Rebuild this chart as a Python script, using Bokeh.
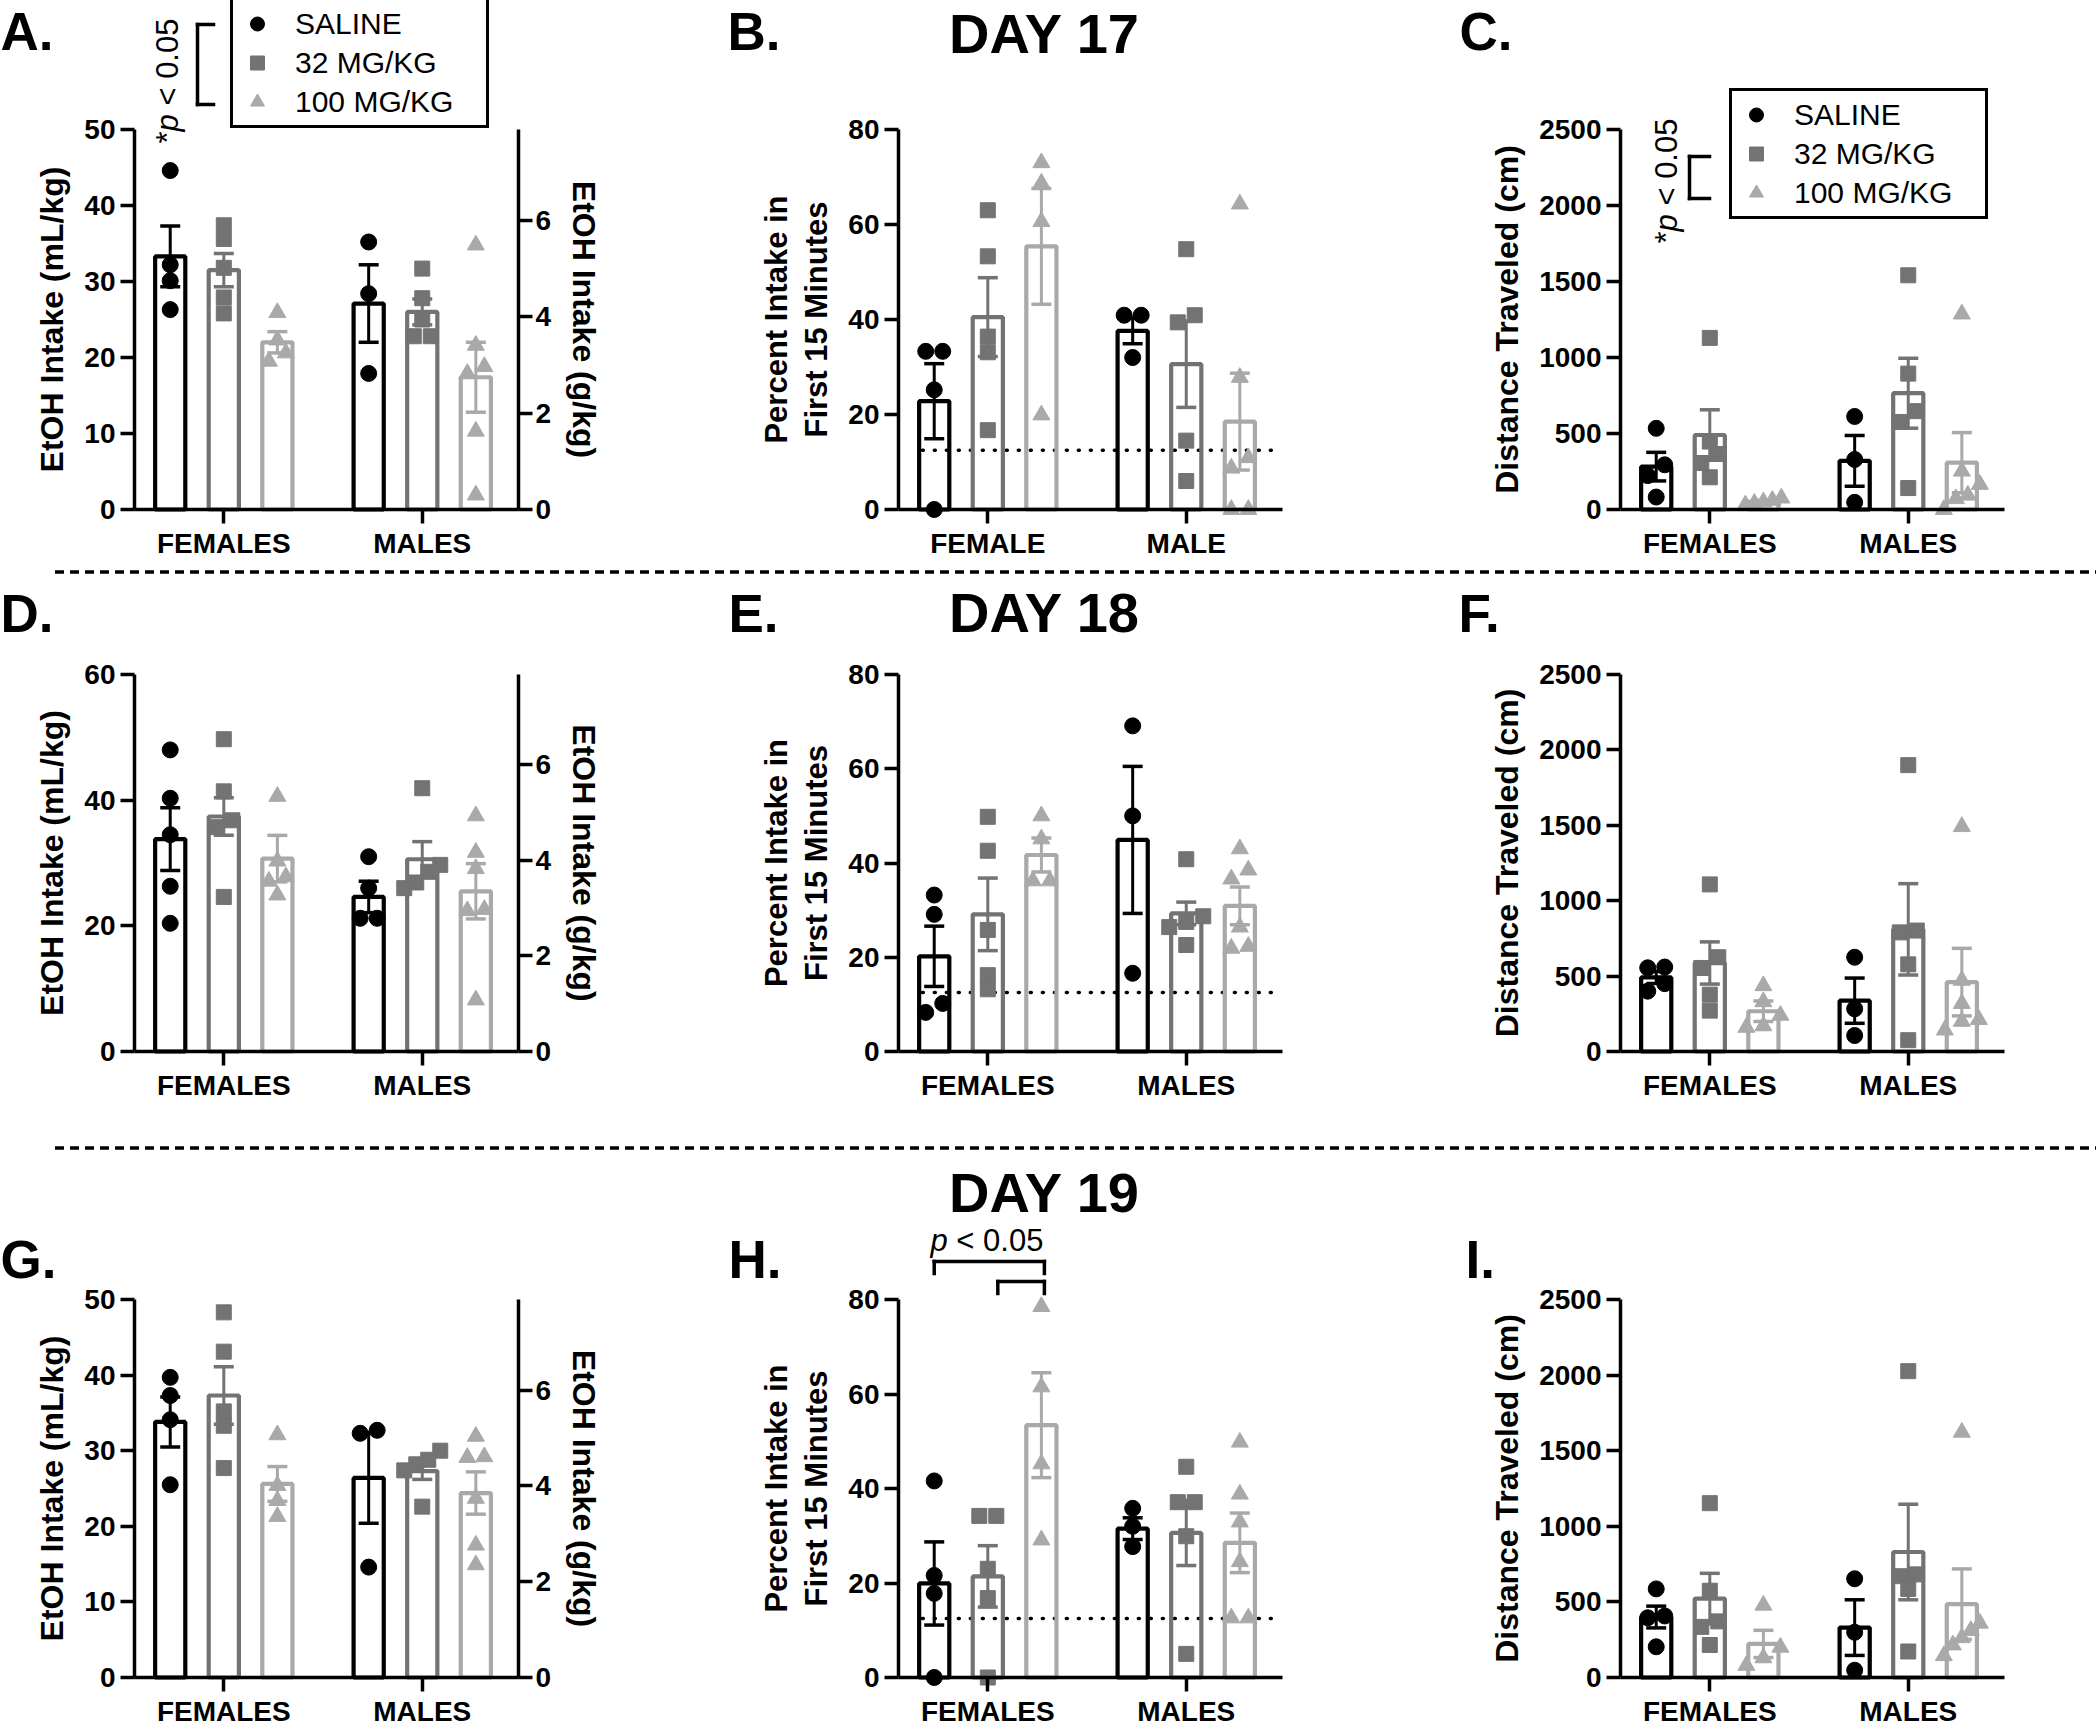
import math
from bokeh.plotting import figure
from bokeh.models import (Range1d, LinearAxis, FixedTicker, Whisker, TeeHead,
                          ColumnDataSource, Label, Legend, LegendItem, Arrow, Div)
from bokeh.layouts import column, row
from bokeh.embed import file_html
from bokeh.resources import INLINE

# ---------------------------------------------------------------- data
DOSES = ["SALINE", "32 MG/KG", "100 MG/KG"]
SEXES = ["FEMALES", "MALES"]
SEXES_B = ["FEMALE", "MALE"]
CHANCE_PCT = 12.5          # dotted reference line (15 of 120 min)
G_PER_KG_MAX = 7.89        # right axis end (g/kg)

# rows = dose (saline, 32, 100); cols = sex (female, male)
A_MEAN = [[33.3, 27.1], [31.5, 26.0], [22.0, 17.4]]
A_SEM = [[4.0, 5.1], [2.2, 1.7], [1.4, 4.6]]
A_PTS = [[[44.6, 32.2, 30.1, 26.3], [35.2, 28.4, 17.9]],
         [[37.4, 35.6, 31.8, 27.9, 25.8], [31.7, 27.8, 25.0, 22.8, 22.8]],
         [[25.9, 22.3, 20.6, 19.5], [34.8, 21.6, 18.8, 17.9, 10.3, 1.9]]]

B_MEAN = [[22.8, 37.6], [40.5, 30.6], [55.4, 18.5]]
B_SEM = [[7.9, 2.7], [8.3, 9.1], [12.2, 10.2]]
B_PTS = [[[33.3, 33.3, 25.2, 0.0], [40.9, 40.9, 32.0]],
         [[63.0, 53.3, 36.4, 33.1, 16.7], [54.8, 40.9, 39.4, 14.5, 6.0]],
         [[73.0, 68.7, 60.6, 19.9], [64.3, 27.8, 10.9, 8.7, 0.0, 0.0]]]

C_MEAN = [[282, 320], [490, 765], [50, 308]]
C_SEM = [[94, 167], [166, 230], [9, 198]]
C_PTS = [[[534, 294, 223, 82], [612, 329, 47]],
         [[1129, 447, 365, 306, 212], [1541, 894, 647, 576, 141]],
         [[75, 60, 50, 40, 30], [1286, 252, 165, 94, 71, 0]]]

D_MEAN = [[33.8, 24.6], [37.4, 30.6], [30.7, 25.5]]
D_SEM = [[5.0, 2.5], [3.0, 2.8], [3.7, 4.4]]
D_PTS = [[[48.0, 40.3, 34.5, 26.3, 20.4], [31.0, 26.0, 21.2, 21.2]],
         [[49.7, 41.4, 36.8, 35.7, 24.6], [41.9, 29.7, 28.6, 26.9, 26.0]],
         [[40.6, 30.3, 27.8, 27.1, 24.9], [37.5, 31.7, 29.1, 22.6, 22.4, 8.2]]]

E_MEAN = [[20.2, 44.9], [29.1, 29.3], [41.7, 30.9]]
E_SEM = [[6.4, 15.6], [7.7, 2.4], [3.6, 4.0]]
E_PTS = [[[33.2, 29.1, 10.2, 8.3], [69.1, 50.0, 16.6]],
         [[49.8, 42.6, 25.8, 16.2, 13.2], [40.8, 28.7, 27.5, 26.4, 22.6]],
         [[50.0, 45.1, 36.2, 36.2], [43.0, 38.5, 36.6, 26.4, 22.3, 21.9]]]

F_MEAN = [[491, 337], [587, 810], [267, 460]]
F_SEM = [[40, 150], [140, 303], [68, 224]]
F_PTS = [[[560, 555, 450, 400], [625, 283, 106]],
         [[1108, 625, 554, 377, 271], [1899, 802, 790, 578, 75]],
         [[436, 330, 240, 170, 160], [1491, 472, 318, 212, 200, 142]]]

G_MEAN = [[33.8, 26.4], [37.3, 27.3], [25.6, 24.4]]
G_SEM = [[3.3, 6.0], [3.8, 1.1], [2.3, 2.8]]
G_PTS = [[[39.7, 37.3, 34.1, 25.5], [32.7, 32.3, 14.6]],
         [[48.3, 43.1, 35.2, 33.3, 27.7], [30.0, 28.8, 28.2, 27.4, 22.6]],
         [[32.1, 25.4, 23.4, 21.3], [31.9, 29.2, 29.1, 23.7, 17.5, 14.9]]]

H_MEAN = [[19.9, 31.5], [21.4, 30.6], [53.4, 28.5]]
H_SEM = [[8.8, 2.3], [6.5, 6.9], [11.1, 6.3]]
H_PTS = [[[41.6, 21.6, 17.8, 0.0], [35.8, 32.0, 27.7]],
         [[34.2, 34.2, 23.0, 16.8, 0.0], [44.6, 37.1, 37.1, 29.9, 5.0]],
         [[78.5, 61.5, 45.2, 29.1], [49.8, 38.8, 32.9, 24.5, 12.6, 12.6]]]

I_MEAN = [[400, 330], [522, 830], [222, 485]]
I_SEM = [[72, 184], [167, 316], [90, 233]]
I_PTS = [[[586, 407, 395, 203], [653, 299, 48]],
         [[1153, 574, 371, 335, 215], [2026, 682, 670, 586, 172]],
         [[478, 200, 130, 80], [1622, 359, 311, 263, 215, 144]]]

ETOH_TICKS = [0, 10, 20, 30, 40, 50]
ETOH_TICKS_D = [0, 20, 40, 60]
PCT_TICKS = [0, 20, 40, 60, 80]
DIST_TICKS = [0, 500, 1000, 1500, 2000, 2500]
G_TICKS = [0, 2, 4, 6]

LETTERS = [["A.", "B.", "C."], ["D.", "E.", "F."], ["G.", "H.", "I."]]
TITLES = ["DAY 17", "DAY 18", "DAY 19"]
P_TEXT = "< 0.05"

# ---------------------------------------------------------------- layout (px)
COL_LEFT = [0, 700, 1400]
COL_W = [700, 700, 696]
FRAME_LEFT = [134, 898, 1620]
FRAME_W = 384
ROW_TOP = [0, 578, 1154]
ROW_H = [566, 564, 573]
FRAME_TOP = [129, 674, 1299]
FRAME_H = [380, 377, 378]
SEP_H = 12
X0, X1 = -0.45, 1.485
DODGE = 0.27
BAR_W = 0.152
BAR_LINE = 4.2
COLORS = ["#000000", "#737373", "#a9a9a9"]
MARKERS = ["circle", "square", "triangle"]
MSIZE = [16, 15, 17]
FONT = "Liberation Sans"
TOTAL_W = sum(COL_W)
BASE_FIX = 0.33   # label anchor correction (em) for alphabetic baseline

LETTER_X = [[0, 727, 1459], [0, 728, 1458], [0, 728, 1465]]
LETTER_BASE = [48, 630, 1276]
LETTER_SIZE = 53
TITLE_X = 1044
TITLE_BASE = [51, 630, 1210]
TITLE_SIZE = 56


def swarm_offsets(vals, px_per_unit, near=11.0, step=17.0, max_span=36.0):
    idx = sorted(range(len(vals)), key=lambda i: vals[i])
    clusters, cur = [], [idx[0]]
    for i in idx[1:]:
        if (vals[i] - vals[cur[-1]]) * px_per_unit < near:
            cur.append(i)
        else:
            clusters.append(cur)
            cur = [i]
    clusters.append(cur)
    off = [0.0] * len(vals)
    for cl in clusters:
        n = len(cl)
        if n == 1:
            continue
        s = min(step, max_span / (n - 1))
        for k, i in enumerate(cl):
            off[i] = (k - (n - 1) / 2.0) * s
    return off


def style_axis(ax, label_size="32px"):
    ax.axis_line_width = 3.5
    ax.axis_line_color = "black"
    ax.major_tick_line_width = 3.5
    ax.major_tick_line_color = "black"
    ax.major_tick_out = 14
    ax.major_tick_in = 0
    ax.minor_tick_line_color = None
    ax.major_label_text_font = FONT
    ax.major_label_text_font_style = "bold"
    ax.major_label_text_font_size = "28px"
    ax.major_label_text_color = "black"
    ax.axis_label_text_font = FONT
    ax.axis_label_text_font_style = "bold"
    ax.axis_label_text_font_size = label_size
    ax.axis_label_text_color = "black"
    ax.major_label_standoff = 5
    ax.axis_label_standoff = 11


def make_panel(r, c, ymax, yticks, ylabel, xlabels, means, sems, pts,
               right_axis=False, chance=False, label_size="32px"):
    xppu = FRAME_W / (X1 - X0)
    ppu = FRAME_H[r] / ymax
    xs0 = X0 - (FRAME_LEFT[c] - COL_LEFT[c]) / xppu
    xs1 = X1 + (COL_LEFT[c] + COL_W[c] - FRAME_LEFT[c] - FRAME_W) / xppu
    ys0 = -(ROW_TOP[r] + ROW_H[r] - FRAME_TOP[r] - FRAME_H[r]) / ppu
    ys1 = ymax + (FRAME_TOP[r] - ROW_TOP[r]) / ppu

    p = figure(width=COL_W[c], height=ROW_H[r],
               x_range=Range1d(xs0, xs1), y_range=Range1d(ys0, ys1),
               min_border=0, min_border_left=0, min_border_right=0,
               min_border_top=0, min_border_bottom=0,
               x_axis_location=None, y_axis_location=None,
               output_backend="svg", toolbar_location=None,
               outline_line_color=None, background_fill_color="white",
               border_fill_color="white")
    p.title.visible = False
    p.xgrid.visible = False
    p.ygrid.visible = False

    xa = LinearAxis(fixed_location=0, bounds=(X0, X1),
                    ticker=FixedTicker(ticks=[0, 1]))
    style_axis(xa)
    xa.major_label_standoff = 4
    xa.major_label_overrides = {0: xlabels[0], 1: xlabels[1]}
    p.add_layout(xa, "below")

    ya = LinearAxis(fixed_location=X0, bounds=(0, ymax),
                    ticker=FixedTicker(ticks=yticks), axis_label=ylabel)
    style_axis(ya, label_size)
    ya.axis_label_text_line_height = 1.15
    p.add_layout(ya, "left")

    if right_axis:
        gscale = G_PER_KG_MAX / ymax
        p.extra_y_ranges = {"g": Range1d(ys0 * gscale, ys1 * gscale)}
        ra = LinearAxis(y_range_name="g", fixed_location=X1,
                        bounds=(0, G_PER_KG_MAX),
                        ticker=FixedTicker(ticks=G_TICKS),
                        axis_label="EtOH Intake (g/kg)")
        style_axis(ra, label_size)
        ra.major_label_standoff = 3
        ra.axis_label_standoff = 12
        p.add_layout(ra, "right")

    if chance:
        p.line(x=[X0 + 0.12, X1 - 0.02], y=[CHANCE_PCT, CHANCE_PCT],
               line_color="black", line_width=3.5, line_dash="1 11",
               line_cap="round")

    renderers = []
    for d in range(3):
        xs = [g + (d - 1) * DODGE for g in (0, 1)]
        p.vbar(x=xs, top=means[d], bottom=0, width=BAR_W, fill_color=None,
               line_color=COLORS[d], line_width=BAR_LINE)
    for d in range(3):
        px, py = [], []
        for g in (0, 1):
            vals = pts[d][g]
            offs = swarm_offsets(vals, ppu)
            for v, o in zip(vals, offs):
                px.append(g + (d - 1) * DODGE + o / xppu)
                py.append(v)
        rr = p.scatter(x=px, y=py, marker=MARKERS[d], size=MSIZE[d],
                       fill_color=COLORS[d], line_color=COLORS[d])
        renderers.append(rr)
    for d in range(3):
        xs = [g + (d - 1) * DODGE for g in (0, 1)]
        up = [means[d][g] + sems[d][g] for g in (0, 1)]
        lo = [means[d][g] - sems[d][g] for g in (0, 1)]
        src = ColumnDataSource(dict(base=xs, upper=up, lower=lo))
        w = Whisker(source=src, base="base", upper="upper", lower="lower",
                    line_color=COLORS[d], line_width=3,
                    upper_head=TeeHead(size=20, line_color=COLORS[d], line_width=3.5),
                    lower_head=TeeHead(size=20, line_color=COLORS[d], line_width=3.5))
        p.add_layout(w)

    def conv(pxp, pyp):
        x = X0 + (pxp - FRAME_LEFT[c]) / FRAME_W * (X1 - X0)
        y = ymax * (1.0 - (pyp - FRAME_TOP[r]) / FRAME_H[r])
        return x, y

    lx, ly = conv(LETTER_X[r][c], LETTER_BASE[r] - BASE_FIX * LETTER_SIZE)
    p.add_layout(Label(x=lx, y=ly, text=LETTERS[r][c], text_font=FONT,
                       text_font_style="bold", text_font_size=f"{LETTER_SIZE}px",
                       text_baseline="alphabetic", text_align="left",
                       text_color="black"))
    if c == 1:
        tx, ty = conv(TITLE_X, TITLE_BASE[r] - BASE_FIX * TITLE_SIZE)
        p.add_layout(Label(x=tx, y=ty, text=TITLES[r], text_font=FONT,
                           text_font_style="bold", text_font_size=f"{TITLE_SIZE}px",
                           text_baseline="alphabetic", text_align="center",
                           text_color="black"))
    return p, renderers, conv


def add_legend(p, renderers, loc):
    items = [LegendItem(label=DOSES[d], renderers=[renderers[d]]) for d in range(3)]
    leg = Legend(items=items, location=loc, orientation="vertical",
                 border_line_color="black", border_line_width=3.5,
                 border_line_alpha=1.0,
                 background_fill_color="white", background_fill_alpha=1.0,
                 padding=6, spacing=4, margin=0, glyph_width=36, glyph_height=35,
                 label_height=35, label_width=185, label_standoff=20,
                 label_text_font=FONT, label_text_font_size="30px",
                 label_text_color="black")
    p.add_layout(leg)


def seg(p, conv, x1, y1, x2, y2):
    a, b = conv(x1, y1)
    cc, dd = conv(x2, y2)
    p.add_layout(Arrow(x_start=a, y_start=b, x_end=cc, y_end=dd, start=None,
                       end=None, line_color="black", line_width=3.5,
                       line_cap="square"))


def rotated_p(p, conv, bx, y0, size=31):
    pieces = [("*", "normal", 0.0), ("p", "italic", 0.389 * size),
              (P_TEXT, "normal", (0.389 + 0.556 + 0.278) * size)]
    for txt, style, dy in pieces:
        x, y = conv(bx - BASE_FIX * size, y0 - dy)
        p.add_layout(Label(x=x, y=y, text=txt, angle=math.pi / 2,
                           text_font=FONT, text_font_style=style,
                           text_font_size=f"{size}px", text_align="left",
                           text_baseline="alphabetic", text_color="black"))


def bracket_v(p, conv, x, ytop, ybot, xr):
    seg(p, conv, x, ytop, x, ybot)
    seg(p, conv, x, ytop, xr, ytop)
    seg(p, conv, x, ybot, xr, ybot)


ETOH_LABEL = "EtOH Intake (mL/kg)"
PCT_LABEL = "Percent Intake in\nFirst 15 Minutes"
DIST_LABEL = "Distance Traveled (cm)"

pA, rA, cA = make_panel(0, 0, 50, ETOH_TICKS, ETOH_LABEL, SEXES, A_MEAN, A_SEM, A_PTS, right_axis=True)
pB, rB, cB = make_panel(0, 1, 80, PCT_TICKS, PCT_LABEL, SEXES_B, B_MEAN, B_SEM, B_PTS, chance=True, label_size="31px")
pC, rC, cC = make_panel(0, 2, 2500, DIST_TICKS, DIST_LABEL, SEXES, C_MEAN, C_SEM, C_PTS)
pD, rD, cD = make_panel(1, 0, 60, ETOH_TICKS_D, ETOH_LABEL, SEXES, D_MEAN, D_SEM, D_PTS, right_axis=True)
pE, rE, cE = make_panel(1, 1, 80, PCT_TICKS, PCT_LABEL, SEXES, E_MEAN, E_SEM, E_PTS, chance=True, label_size="31px")
pF, rF, cF = make_panel(1, 2, 2500, DIST_TICKS, DIST_LABEL, SEXES, F_MEAN, F_SEM, F_PTS)
pG, rG, cG = make_panel(2, 0, 50, ETOH_TICKS, ETOH_LABEL, SEXES, G_MEAN, G_SEM, G_PTS, right_axis=True)
pH, rH, cH = make_panel(2, 1, 80, PCT_TICKS, PCT_LABEL, SEXES, H_MEAN, H_SEM, H_PTS, chance=True, label_size="31px")
pI, rI, cI = make_panel(2, 2, 2500, DIST_TICKS, DIST_LABEL, SEXES, I_MEAN, I_SEM, I_PTS)

# legends: (left, bottom) offsets from the canvas bottom-left corner
add_legend(pA, rA, (230 - COL_LEFT[0], ROW_TOP[0] + ROW_H[0] - 128))
add_legend(pC, rC, (1729 - COL_LEFT[2], ROW_TOP[0] + ROW_H[0] - 219))

# significance marks
rotated_p(pA, cA, 177, 143)
bracket_v(pA, cA, 197, 24, 104, 213)
rotated_p(pC, cC, 1676, 243)
bracket_v(pC, cC, 1689, 156, 198, 1709)


def data_to_px_x(xd, c):
    return FRAME_LEFT[c] + (xd - X0) / (X1 - X0) * FRAME_W


xs_sal = data_to_px_x(-DODGE, 1)
xs_32 = data_to_px_x(0, 1) + 10
xs_100 = data_to_px_x(DODGE, 1) + 3
seg(pH, cH, xs_sal, 1261, xs_100, 1261)
seg(pH, cH, xs_sal, 1261, xs_sal, 1273)
seg(pH, cH, xs_100, 1261, xs_100, 1273)
seg(pH, cH, xs_32, 1281, xs_100, 1281)
seg(pH, cH, xs_32, 1281, xs_32, 1293)
seg(pH, cH, xs_100, 1281, xs_100, 1293)
P_SIZE = 31
hpx, hpy = cH(930, 1250 - BASE_FIX * P_SIZE)
pH.add_layout(Label(x=hpx, y=hpy, text="p", text_font=FONT, text_font_style="italic",
                    text_font_size=f"{P_SIZE}px", text_baseline="alphabetic", text_align="left",
                    text_color="black"))
hqx, hqy = cH(930 + (0.556 + 0.278) * P_SIZE, 1250 - BASE_FIX * P_SIZE)
pH.add_layout(Label(x=hqx, y=hqy, text=P_TEXT, text_font=FONT, text_font_style="normal",
                    text_font_size=f"{P_SIZE}px", text_baseline="alphabetic", text_align="left",
                    text_color="black"))


def separator():
    svg = (f'<svg width="{TOTAL_W}" height="{SEP_H}" style="display:block">'
           f'<line x1="55" y1="{SEP_H / 2}" x2="{TOTAL_W}" y2="{SEP_H / 2}" stroke="#000" '
           f'stroke-width="3.5" stroke-dasharray="9 6"/></svg>')
    return Div(text=svg, width=TOTAL_W, height=SEP_H, margin=(0, 0, 0, 0))


layout = column(
    row(pA, pB, pC, spacing=0),
    separator(),
    row(pD, pE, pF, spacing=0),
    separator(),
    row(pG, pH, pI, spacing=0),
    spacing=0,
)

open("out.html", "w").write(file_html(layout, INLINE))
